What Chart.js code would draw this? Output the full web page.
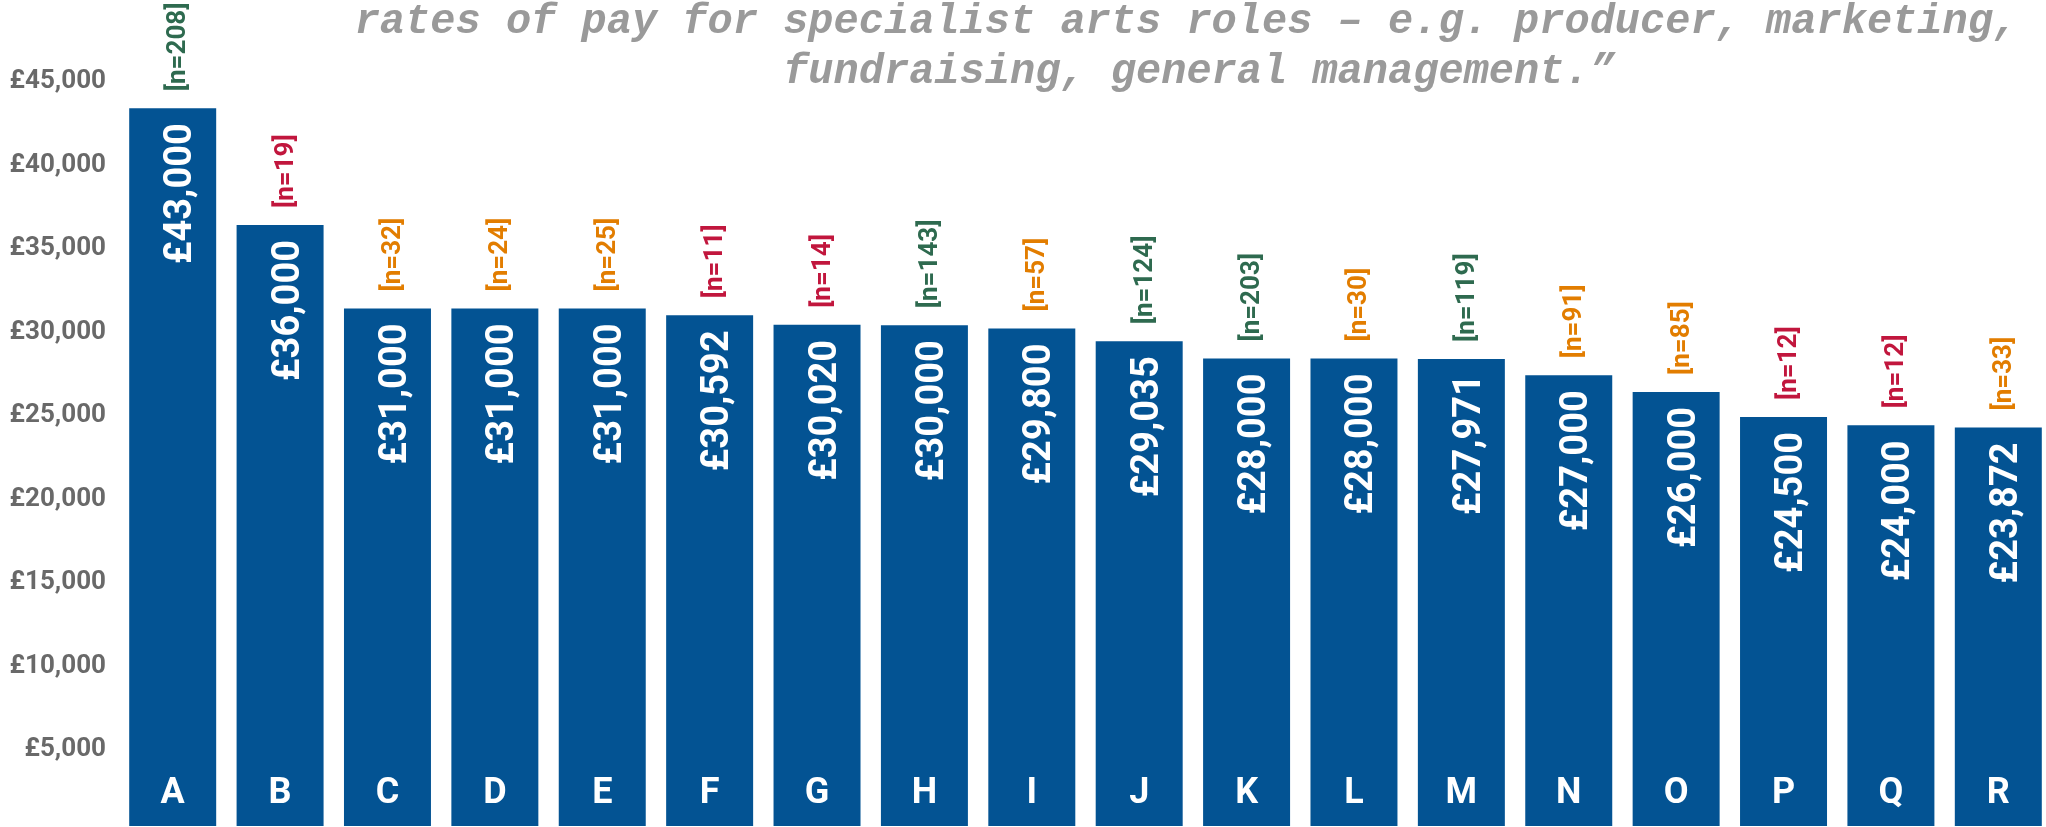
<!DOCTYPE html>
<html>
<head>
<meta charset="utf-8">
<script src="https://cdn.jsdelivr.net/npm/chart.js@4.4.1/dist/chart.umd.min.js"></script>
<style>
  html, body { margin: 0; padding: 0; background: #fff; overflow: hidden; }
  #wrap { width: 2060px; height: 827px; }
</style>
</head>
<body>
<div id="wrap"><canvas id="pay-chart" width="2060" height="827"></canvas></div>
<script>
// roles (anonymised) and median salaries
var roles = ['A', 'B', 'C', 'D', 'E', 'F', 'G', 'H', 'I', 'J', 'K', 'L', 'M', 'N', 'O', 'P', 'Q', 'R'];
var salaries = [43000, 36000, 31000, 31000, 31000, 30592, 30020, 30000, 29800, 29035, 28000, 28000, 27971, 27000, 26000, 24500, 24000, 23872];
var respondents = [208, 19, 32, 24, 25, 11, 14, 143, 57, 124, 203, 30, 119, 91, 85, 12, 12, 33];
var yTicks = [5000, 10000, 15000, 20000, 25000, 30000, 35000, 40000, 45000];
var quoteLines = [
  'rates of pay for specialist arts roles \u2013 e.g. producer, marketing, ',
  'fundraising, general management.\u201d'
];

(function(){
  "use strict"

  var BLUE = '#035393',
      GREEN = '#2e6a4f',
      RED = '#c1163d',
      ORANGE = '#e27d00';

  var money = function(v){
    return '\u00a3' + v.toLocaleString('en-GB')
  }

  // sample size colour: big samples green, small red, the rest orange
  var sampleColour = function(n){
    if (n >= 100) return GREEN
    if (n < 20) return RED
    return ORANGE
  }

  var barLabels = {
    id: 'barLabels',
    afterDatasetsDraw: function(chart){
      var ctx = chart.ctx
      var bars = chart.getDatasetMeta(0).data
      for (var i = 0; i < bars.length; i++) {
        var bar = bars[i]

        // value, rotated, hanging from the top of the bar
        ctx.save()
        ctx.translate(bar.x + 18.5, bar.y + 15)
        ctx.rotate(-Math.PI / 2)
        ctx.font = 'bold 38px Roboto'
        ctx.fillStyle = '#ffffff'
        ctx.textAlign = 'right'
        ctx.textBaseline = 'alphabetic'
        ctx.fillText(money(salaries[i]), 0, 0)
        ctx.restore()

        // [n=..] above the bar
        ctx.save()
        ctx.translate(bar.x + 12.5, bar.y - 17)
        ctx.rotate(-Math.PI / 2)
        ctx.font = 'bold 26px Roboto'
        ctx.fillStyle = sampleColour(respondents[i])
        ctx.textAlign = 'left'
        ctx.textBaseline = 'alphabetic'
        ctx.fillText('[n=' + respondents[i] + ']', 0, 0)
        ctx.restore()

        // role letter at the foot
        ctx.save()
        ctx.font = 'bold 36px Roboto'
        ctx.fillStyle = '#ffffff'
        ctx.textAlign = 'center'
        ctx.textBaseline = 'alphabetic'
        ctx.fillText(roles[i], bar.x, 803)
        ctx.restore()
      }
    }
  }

  var quote = {
    id: 'quote',
    afterDraw: function(chart){
      var ctx = chart.ctx
      ctx.save()
      ctx.font = 'italic bold 42px "Liberation Mono"'
      ctx.fillStyle = '#9a9a9a'
      ctx.textAlign = 'center'
      ctx.textBaseline = 'alphabetic'
      for (var i = 0; i < quoteLines.length; i++) {
        ctx.fillText(quoteLines[i], 1199, 33 + i * 50)
      }
      ctx.restore()
    }
  }

  var createChart = function(){
    Chart.defaults.font.family = 'Roboto'
    var ctx = document.getElementById('pay-chart').getContext('2d')
    new Chart(ctx, {
      type: 'bar',
      data: {
        labels: roles,
        datasets: [{
          data: salaries,
          backgroundColor: BLUE,
          borderWidth: 0,
          barPercentage: 0.81,
          categoryPercentage: 1
        }]
      },
      options: {
        responsive: false,
        animation: false,
        layout: { padding: { top: 8, right: 8, bottom: 1, left: 0 } },
        scales: {
          x: {
            display: false
          },
          y: {
            min: 0,
            max: 49000,
            grid: { display: false },
            border: { display: false },
            afterBuildTicks: function(scale){
              scale.ticks = yTicks.map(function(v){ return { value: v } })
            },
            afterFit: function(scale){
              scale.width = 119
              // no extra room for label overhang, the plot runs to the edges
              scale.paddingTop = 0
              scale.paddingBottom = 0
            },
            ticks: {
              padding: 5,
              labelOffset: 7,
              color: '#696969',
              font: { size: 26, weight: 'bold' },
              callback: function(v){ return money(v) }
            }
          }
        },
        plugins: {
          legend: { display: false },
          tooltip: { enabled: false }
        }
      },
      plugins: [barLabels, quote]
    })
  }

  Promise.all([
    document.fonts.load('bold 38px Roboto'),
    document.fonts.load('italic bold 42px "Liberation Mono"')
  ]).then(createChart, createChart)
}).call(this);
</script>
</body>
</html>
